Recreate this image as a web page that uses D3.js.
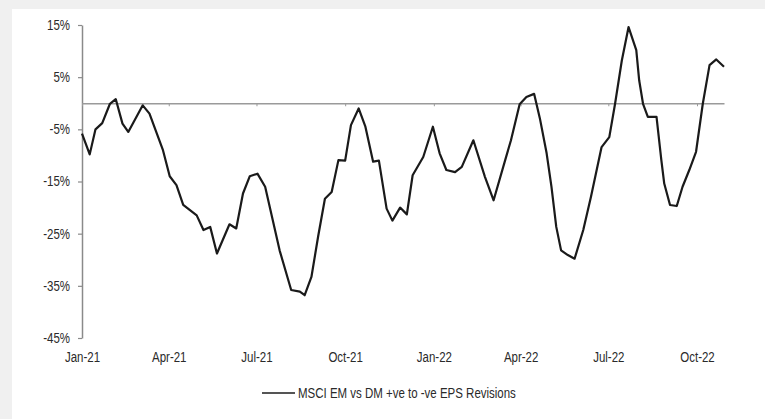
<!DOCTYPE html>
<html>
<head>
<meta charset="utf-8">
<script src="https://cdn.jsdelivr.net/npm/d3@7"></script>
<style>
  html, body { margin: 0; padding: 0; background: #f0f0f0; }
  svg { display: block; }
</style>
</head>
<body>
<svg id="chart" width="765" height="419"></svg>
<script>
// MSCI EM vs DM: ratio of positive to negative EPS revisions (%)
const dates = [
  "2021-01-01","2021-01-09","2021-01-15","2021-01-22","2021-01-30","2021-02-05","2021-02-12","2021-02-18",
  "2021-03-05","2021-03-12","2021-03-26","2021-04-02","2021-04-09","2021-04-16","2021-04-23","2021-04-30",
  "2021-05-07","2021-05-14","2021-05-21","2021-06-03","2021-06-10","2021-06-17","2021-06-24","2021-07-02",
  "2021-07-10","2021-07-25","2021-08-06","2021-08-15","2021-08-20","2021-08-27","2021-09-03","2021-09-10",
  "2021-09-17","2021-09-24","2021-10-01","2021-10-07","2021-10-15","2021-10-22","2021-10-30","2021-11-05",
  "2021-11-13","2021-11-19","2021-11-27","2021-12-04","2021-12-10","2021-12-21","2021-12-31","2022-01-07",
  "2022-01-14","2022-01-23","2022-01-30","2022-02-11","2022-02-23","2022-03-04","2022-03-16","2022-03-22",
  "2022-03-31","2022-04-07","2022-04-15","2022-04-21","2022-04-28","2022-05-03","2022-05-08","2022-05-13",
  "2022-05-20","2022-05-27","2022-06-05","2022-06-13","2022-06-24","2022-07-02","2022-07-08","2022-07-15",
  "2022-07-22","2022-07-30","2022-08-02","2022-08-06","2022-08-11","2022-08-20","2022-08-25","2022-08-28",
  "2022-09-03","2022-09-10","2022-09-16","2022-09-23","2022-09-30","2022-10-07","2022-10-14","2022-10-21",
  "2022-10-29"
];
const values = [
  -5.8, -9.8, -5.0, -3.8, -0.1, 0.8, -3.9, -5.5,
  -0.4, -2.0, -9.0, -14.0, -15.7, -19.5, -20.5, -21.5,
  -24.3, -23.7, -28.8, -23.2, -24.0, -17.3, -14.0, -13.5,
  -16.0, -28.2, -35.8, -36.1, -36.8, -33.3, -25.5, -18.3,
  -17.0, -10.9, -11.0, -4.2, -1.0, -4.5, -11.2, -11.0,
  -20.2, -22.5, -20.0, -21.3, -13.8, -10.3, -4.5, -9.6,
  -12.8, -13.2, -12.2, -7.1, -14.1, -18.6, -10.9, -7.1,
  -0.2, 1.2, 1.8, -2.9, -9.6, -16.0, -23.7, -28.2,
  -29.1, -29.8, -24.3, -17.9, -8.4, -6.5, -0.1, 8.2,
  14.6, 10.2, 4.4, -0.1, -2.6, -2.6, -10.9, -15.4,
  -19.5, -19.7, -16.0, -12.8, -9.3, -0.1, 7.3, 8.4,
  7.0
];
const yTicks = [15, 5, -5, -15, -25, -35, -45];
const xTickDates = ["2021-01-01","2021-04-01","2021-07-01","2021-10-01","2022-01-01","2022-04-01","2022-07-01","2022-10-01"];
const xTickLabels = ["Jan-21","Apr-21","Jul-21","Oct-21","Jan-22","Apr-22","Jul-22","Oct-22"];
const seriesName = "MSCI EM vs DM +ve to -ve EPS Revisions";

const parse = d3.utcParse("%Y-%m-%d");
const data = dates.map((d, i) => ({ date: parse(d), value: values[i] }));
const tickDates = xTickDates.map(parse);

const svg = d3.select("#chart");
const FONT = "'Liberation Sans Narrow', 'Arial Narrow', 'Liberation Sans', Arial, sans-serif";
const TEXT_COLOR = "#2a2a2a";

// condense a text element horizontally to a narrow-face width
function narrow(sel) {
  sel.each(function () {
    const w = this.getComputedTextLength();
    d3.select(this).attr("textLength", w * 0.82).attr("lengthAdjust", "spacingAndGlyphs");
  });
}

// white panel
svg.append("rect").attr("x", 12).attr("y", 9).attr("width", 765 - 12).attr("height", 419 - 9).attr("fill", "#ffffff");

const x = d3.scaleUtc()
  .domain([data[0].date, data[data.length - 1].date])
  .range([82, 724]);
const y = d3.scaleLinear().domain([-45, 15]).range([338, 25]);

// y axis
const yAxis = svg.append("g")
  .attr("transform", `translate(${x.range()[0]},0)`)
  .call(d3.axisLeft(y).tickValues(yTicks).tickSize(4).tickSizeOuter(0).tickPadding(8).tickFormat(d => d + "%"));
yAxis.select(".domain").attr("stroke", "#8a8a8a").attr("stroke-width", 1.5);
yAxis.selectAll(".tick line").attr("stroke", "#8a8a8a").attr("stroke-width", 1.2);
yAxis.selectAll("text").attr("font-family", FONT).attr("font-size", 14).attr("fill", TEXT_COLOR).call(narrow);

// zero line with quarter ticks
const zeroAxis = svg.append("g")
  .attr("transform", `translate(0,${y(0)})`)
  .call(d3.axisBottom(x).tickValues(tickDates).tickSize(3).tickSizeOuter(0).tickFormat(""));
zeroAxis.select(".domain").attr("stroke", "#9a9a9a").attr("stroke-width", 1.6);
zeroAxis.selectAll(".tick line").attr("stroke", "#9a9a9a").attr("stroke-width", 1);

// date labels along the bottom
const labelAxis = svg.append("g")
  .attr("transform", `translate(0,${y(-45)})`)
  .call(d3.axisBottom(x).tickValues(tickDates).tickSize(0).tickPadding(14)
    .tickFormat((d, i) => xTickLabels[i]));
labelAxis.select(".domain").remove();
labelAxis.selectAll("text").attr("font-family", FONT).attr("font-size", 14).attr("fill", TEXT_COLOR).call(narrow);

// series line
svg.append("path")
  .datum(data)
  .attr("fill", "none")
  .attr("stroke", "#1a1a1a")
  .attr("stroke-width", 2.2)
  .attr("stroke-linejoin", "round")
  .attr("d", d3.line().x(d => x(d.date)).y(d => y(d.value)));

// legend
const legend = svg.append("g").attr("transform", "translate(262,393)");
legend.append("line").attr("x1", 0).attr("x2", 33).attr("y1", 0).attr("y2", 0)
  .attr("stroke", "#555").attr("stroke-width", 2.2);
legend.append("text").attr("x", 36).attr("y", 0).attr("dy", "0.35em")
  .attr("font-family", FONT).attr("font-size", 14).attr("fill", TEXT_COLOR)
  .text(seriesName).call(narrow);
</script>
</body>
</html>
